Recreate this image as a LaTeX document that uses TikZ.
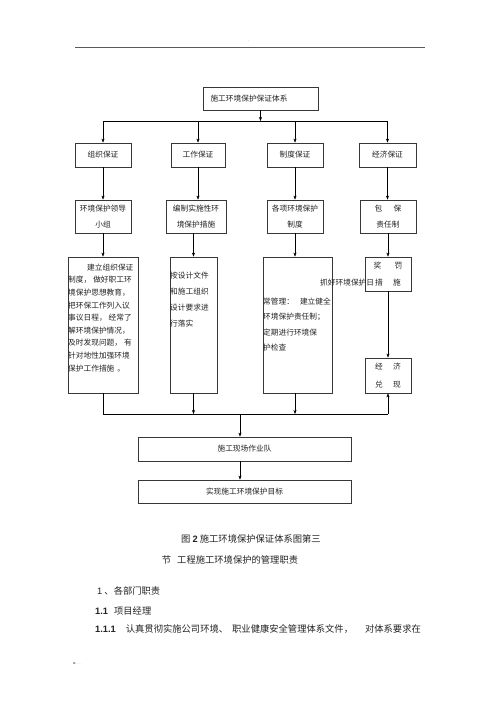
\documentclass[tikz,border=0pt]{standalone}
\usepackage{fontspec}
\setmainfont{Noto Sans CJK SC}
\newfontfamily\numfont{Liberation Sans}
\usepackage{tikz}
\usetikzlibrary{arrows.meta}

\begin{document}
\begin{tikzpicture}[x=1pt, y=-1pt, >={Stealth[length=4pt,width=3pt]},
	box/.style={draw=boxline, line width=0.8pt, inner sep=0pt, align=center, text=ink,
		font=\fontsize{7.7}{16}\selectfont},
	txt/.style={inner sep=0pt, align=left, anchor=north west, text=ink},
	body/.style={inner sep=0pt, anchor=west, text=ink, font=\fontsize{9.3}{11}\selectfont}]
	\definecolor{boxline}{RGB}{55,55,55}
	\definecolor{ink}{RGB}{35,35,35}
	\definecolor{headgray}{RGB}{90,90,90}

	\fill[white] (0,0) rectangle (500,707);
	\useasboundingbox (0,0) rectangle (500,707);

	% page head
	\draw[headgray, line width=0.6pt] (75,47) -- (425,47);
	\node[inner sep=0pt, text=headgray, font=\fontsize{4}{4}\selectfont] (headdot) at (249,41) {.};

	% boxes
	\node[box, minimum width=115pt, minimum height=23pt, text width=100pt, align=left] (top) at (260.5,98.5) {施工环境保护保证体系};

	\node[box, minimum width=56pt, minimum height=24pt] (org) at (103,155) {组织保证};
	\node[box, minimum width=54pt, minimum height=24pt] (work) at (198,155) {工作保证};
	\node[box, minimum width=56pt, minimum height=24pt] (sys) at (295,155) {制度保证};
	\node[box, minimum width=57pt, minimum height=24pt] (eco) at (387.5,155) {经济保证};

	\node[box, minimum width=56pt, minimum height=33pt] (lead) at (103,216.5) {环境保护领导\\小组};
	\node[box, minimum width=60pt, minimum height=33pt] (plan) at (196,216.5) {编制实施性环\\境保护措施};
	\node[box, minimum width=56pt, minimum height=33pt] (rule) at (295,216.5) {各项环境保护\\制度};
	\node[box, minimum width=56pt, minimum height=33pt] (duty) at (388,216.5) {包\hspace{11.3pt}保\\责任制};

	\node[box, minimum width=70pt, minimum height=136pt] (org3) at (103,325) {};
	\node[box, minimum width=47pt, minimum height=136pt] (work3) at (193.5,325) {};
	\node[box, minimum width=69pt, minimum height=136pt] (sys3) at (297.5,325) {};
	\node[box, minimum width=46pt, minimum height=34pt, font=\fontsize{7.7}{17}\selectfont] (prize) at (388,274) {奖\hspace{13.3pt}罚\\措\hspace{10.3pt}施};
	\node[box, minimum width=46pt, minimum height=35pt, font=\fontsize{7.7}{18}\selectfont] (cash) at (388,375.5) {经\hspace{10.3pt}济\\兑\hspace{10.3pt}现};

	\node[box, minimum width=213pt, minimum height=24pt] (team) at (244.5,449) {施工现场作业队};
	\node[box, minimum width=213pt, minimum height=23pt] (goal) at (244.5,491.5) {实现施工环境保护目标};

	% texts in the tall boxes
	\node[txt, font=\fontsize{7.7}{12.6}\selectfont] (orgtxt) at (68,263.5) {\hspace{19pt}建立组织保证\\制度，\hspace{2pt}做好职工环\\境保护思想教育，\\把环保工作列入议\\事议日程，\hspace{2pt}经常了\\解环境保护情况，\\及时发现问题，\hspace{2pt}有\\针对地性加强环境\\保护工作措施\hspace{3pt}。};
	\node[txt, font=\fontsize{7.7}{16}\selectfont] (worktxt) at (170,271.5) {按设计文件\\和施工组织\\设计要求进\\行落实};
	\node[txt, font=\fontsize{7.7}{15.5}\selectfont] (systxt) at (263,297.5) {常管理：\hspace{6pt}建立健全\\环境保护责任制；\\定期进行环境保\\护检查};
	\node[txt, anchor=west, font=\fontsize{7.7}{10}\selectfont] (systop) at (320,283) {抓好环境保护日};

	% connectors
	\coordinate (hub) at (260.5,121);
	\coordinate (bus) at (240,414);
	\draw[->] (top) -- (hub);
	\draw (org.north |- hub) -- (eco.north |- hub);
	\draw[->] (org.north |- hub) -- (org);
	\draw[->] (work.north |- hub) -- (work);
	\draw[->] (sys.north |- hub) -- (sys);
	\draw[->] (eco.north |- hub) -- (eco);

	\draw[->] (org.south) -- (org.south |- lead.north);
	\draw[->] (work.south) -- (work.south |- plan.north);
	\draw[->] (sys.south) -- (sys.south |- rule.north);
	\draw[->] (eco.south) -- (eco.south |- duty.north);

	\draw[->] (lead.south) -- (lead.south |- org3.north);
	\draw[->] (work3.north |- plan.south) -- (work3.north);
	\draw[->] (rule.south) -- (rule.south |- sys3.north);
	\draw[->] (duty.south) -- (duty.south |- prize.north);
	\draw[->] (prize) -- (cash);

	\draw (org3.south) -- (org3.south |- bus) -- (cash.south |- bus);
	\draw[->] (work3.south) -- (work3.south |- bus);
	\draw[->] (rule.south |- sys3.south) -- (rule.south |- bus);
	\draw[->] (cash.south |- bus) -- (cash.south);
	\draw[->] (bus) -- (bus |- team.north);
	\draw[->] (team.south -| bus) -- (bus |- goal.north);

	% caption and text below
	\node[body, anchor=center] (fig) at (251,539) {图 {\numfont\bfseries 2} 施工环境保护保证体系图第三};
	\node[body, anchor=center] (sec) at (230,560) {节\hspace{6pt}工程施工环境保护的管理职责};
	\node[body] (dept) at (97,591) {{\numfont 1} 、各部门职责};
	\node[body] (pm) at (95,611) {{\numfont\bfseries 1.1}\hspace{6pt}项目经理};
	\node[body] (task) at (95,629) {{\numfont\bfseries 1.1.1}\hspace{10pt}认真贯彻实施公司环境、\hspace{4pt}职业健康安全管理体系文件，\hspace{12pt}对体系要求在};

	% page foot
	\node[inner sep=0pt, anchor=west, text=headgray!60, font=\fontsize{2.5}{3}\selectfont] (foot) at (73,664) {■ ........};
\end{tikzpicture}
\end{document}
